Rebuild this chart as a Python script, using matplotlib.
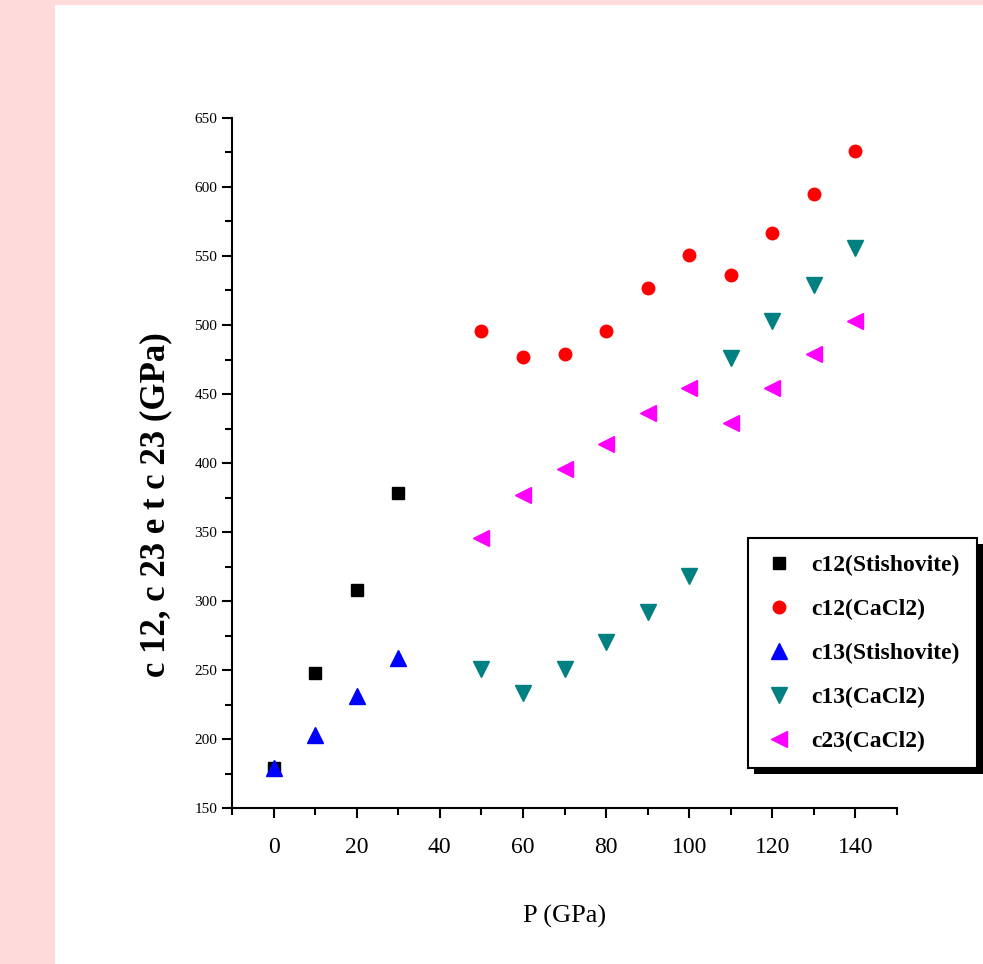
import numpy as np
import matplotlib.pyplot as plt
from matplotlib.ticker import MultipleLocator
from matplotlib.patches import Rectangle

plt.rcParams['font.family'] = ['Liberation Serif', 'DejaVu Serif']

# pressure points (GPa)
p_stish = [0, 10, 20, 30]
p_cacl2 = [50, 60, 70, 80, 90, 100, 110, 120, 130, 140]

# elastic constants (GPa)
c12_stish = [179, 248, 308, 378]
c13_stish = [179, 203, 231, 259]
c12_cacl2 = [496, 477, 479, 496, 527, 551, 536, 567, 595, 626]
c13_cacl2 = [251, 233, 251, 270, 292, 318, 476, 503, 529, 556]
c23_cacl2 = [346, 377, 396, 414, 436, 454, 429, 454, 479, 503]

labels = ['c12(Stishovite)', 'c12(CaCl2)', 'c13(Stishovite)', 'c13(CaCl2)', 'c23(CaCl2)']

fig = plt.figure(figsize=(9.83, 9.64), dpi=100)
fig.patch.set_facecolor('white')
# pink frame strips on the left and top
fig.patches.append(Rectangle((0, 0), 55/983, 1, transform=fig.transFigure,
                             facecolor='#FFDADA', edgecolor='none', zorder=0))
fig.patches.append(Rectangle((0, 1 - 5/964), 1, 5/964, transform=fig.transFigure,
                             facecolor='#FFDADA', edgecolor='none', zorder=0))

ax = fig.add_axes([232/983, 156/964, 665/983, 690/964])

ax.plot(p_stish, c12_stish, 's', color='black', markersize=8, label=labels[0])
ax.plot(p_cacl2, c12_cacl2, 'o', color='red', markersize=9, label=labels[1])
ax.plot(p_stish, c13_stish, '^', color='blue', markersize=11, label=labels[2])
ax.plot(p_cacl2, c13_cacl2, 'v', color='#008080', markersize=11, label=labels[3])
ax.plot(p_cacl2, c23_cacl2, '<', color='magenta', markersize=11, label=labels[4])

ax.set_xlim(-10, 150)
ax.set_ylim(150, 650)
ax.xaxis.set_major_locator(MultipleLocator(20))
ax.xaxis.set_minor_locator(MultipleLocator(10))
ax.yaxis.set_major_locator(MultipleLocator(50))
ax.yaxis.set_minor_locator(MultipleLocator(25))

ax.spines['top'].set_visible(False)
ax.spines['right'].set_visible(False)
for s in ['left', 'bottom']:
    ax.spines[s].set_linewidth(1.5)
ax.tick_params(which='major', direction='out', length=7, width=1.5)
ax.tick_params(which='minor', direction='out', length=5, width=1.5)
ax.tick_params(axis='x', labelsize=17, pad=14)
ax.tick_params(axis='y', labelsize=11)

ax.set_xlabel('P (GPa)', fontsize=19, labelpad=34)
ax.set_ylabel('c 12, c 23 e t c 23 (GPa)', fontsize=25, fontweight='bold')
ax.yaxis.set_label_coords(-0.09, 0.44)

leg = fig.legend(loc='upper left', bbox_to_anchor=(748/983, 1 - 538/964),
                 prop={'weight': 'bold', 'size': 17},
                 fancybox=False, edgecolor='black', framealpha=1, borderaxespad=0,
                 handletextpad=0.8, labelspacing=0.95, borderpad=0.7, handlelength=1.2)
leg.get_frame().set_linewidth(1.5)
leg.set_zorder(5)

# solid drop shadow behind the legend box
fig.canvas.draw()
bb = leg.get_window_extent().transformed(fig.transFigure.inverted())
fig.patches.append(Rectangle((bb.x0 + 6/983, bb.y0 - 6/964), bb.width, bb.height,
                             transform=fig.transFigure, facecolor='black',
                             edgecolor='none', zorder=4))

fig.savefig('out.png', dpi=100, facecolor='white')
